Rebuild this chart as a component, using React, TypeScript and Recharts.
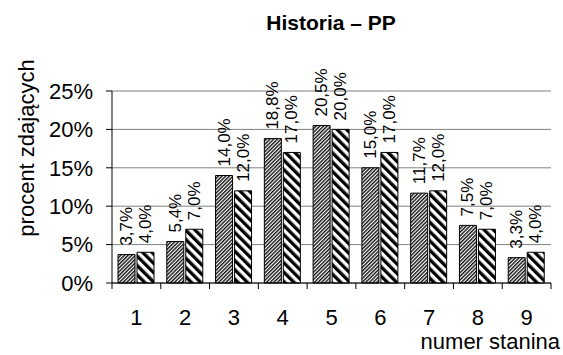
import React from 'react';
import { BarChart, Bar, XAxis, YAxis, CartesianGrid, LabelList } from 'recharts';

const staniny = ['1', '2', '3', '4', '5', '6', '7', '8', '9'];
const seriaA = [3.7, 5.4, 14.0, 18.8, 20.5, 15.0, 11.7, 7.5, 3.3];
const seriaB = [4.0, 7.0, 12.0, 17.0, 20.0, 17.0, 12.0, 7.0, 4.0];
const yTicks = [0, 5, 10, 15, 20, 25];

const data = staniny.map((s, i) => ({ name: s, a: seriaA[i], b: seriaB[i] }));

const W = 563;
const H = 355;
const LEFT = 112;
const RIGHT = 12;
const TOP = 91;
const BAND = (W - LEFT - RIGHT) / staniny.length;
const FONT = 'Arial, "Liberation Sans", sans-serif';

const fmt = (v: number) => v.toFixed(1).replace('.', ',') + '%';

// etykieta obrócona o 90°, nad słupkiem
const BarLabel = (props: any) => {
    const { x, y, width, value } = props;
    const cx = x + width / 2;
    const cy = y - 9;
    return (
        <text
            x={cx}
            y={cy}
            transform={`rotate(-90, ${cx}, ${cy})`}
            textAnchor="start"
            dominantBaseline="central"
            fontSize={17}
            fontFamily={FONT}
            fill="#000"
        >
            {fmt(value)}
        </text>
    );
};

// kreski osi X między kategoriami, podpis na środku
const XTick = (props: any) => {
    const { x, y, payload, index } = props;
    const left = x - BAND / 2;
    return (
        <g>
            <line x1={left} y1={y} x2={left} y2={y + 6} stroke="#000" />
            {index === staniny.length - 1 && (
                <line x1={x + BAND / 2} y1={y} x2={x + BAND / 2} y2={y + 6} stroke="#000" />
            )}
            <text x={x} y={y + 42} textAnchor="middle" fontSize={22} fontFamily={FONT} fill="#000">
                {payload.value}
            </text>
        </g>
    );
};

export default function App() {
    return (
        <div style={{ position: 'absolute', left: 0, top: 0, width: W, height: H, background: '#fff' }}>
            <svg width={W} height={H} style={{ position: 'absolute', left: 0, top: 0 }}>
                <text x={331} y={30} textAnchor="middle" fontSize={21} fontWeight="bold" fontFamily={FONT}>
                    Historia – PP
                </text>
                <text
                    x={26}
                    y={148}
                    transform="rotate(-90, 26, 148)"
                    textAnchor="middle"
                    dominantBaseline="central"
                    fontSize={22}
                    fontFamily={FONT}
                >
                    procent zdających
                </text>
                <text x={560} y={349} textAnchor="end" fontSize={22} fontFamily={FONT}>
                    numer stanina
                </text>
            </svg>
            <BarChart
                width={W}
                height={H}
                data={data}
                margin={{ top: TOP, right: RIGHT, left: 0, bottom: 0 }}
                barGap={2}
                barCategoryGap={6}
                style={{ position: 'absolute', left: 0, top: 0 }}
            >
                <defs>
                    <pattern id="hatchA" patternUnits="userSpaceOnUse" width="2.6" height="2.6" patternTransform="rotate(45)">
                        <rect width="2.6" height="2.6" fill="#fff" />
                        <rect width="1.4" height="2.6" fill="#111" />
                    </pattern>
                    <pattern id="hatchB" patternUnits="userSpaceOnUse" width="6.6" height="6.6" patternTransform="rotate(-45)">
                        <rect width="6.6" height="6.6" fill="#fff" />
                        <rect width="3.3" height="6.6" fill="#000" />
                    </pattern>
                </defs>
                <CartesianGrid vertical={false} stroke="#808080" />
                <XAxis
                    dataKey="name"
                    height={72}
                    axisLine={{ stroke: '#000' }}
                    tickLine={false}
                    tickSize={0}
                    tickMargin={0}
                    tick={<XTick />}
                    interval={0}
                />
                <YAxis
                    width={LEFT}
                    domain={[0, 25]}
                    ticks={yTicks}
                    tickFormatter={(v: number) => `${v}%`}
                    axisLine={{ stroke: '#000' }}
                    tickLine={{ stroke: '#000' }}
                    tickSize={6}
                    tickMargin={13}
                    tick={{ fill: '#000', fontSize: 22, fontFamily: FONT }}
                />
                <YAxis
                    yAxisId="r"
                    orientation="right"
                    width={0}
                    tick={false}
                    tickLine={false}
                    axisLine={{ stroke: '#808080' }}
                />
                <Bar dataKey="a" fill="url(#hatchA)" stroke="#000" strokeWidth={1} isAnimationActive={false}>
                    <LabelList dataKey="a" content={<BarLabel />} />
                </Bar>
                <Bar dataKey="b" fill="url(#hatchB)" stroke="#000" strokeWidth={1} isAnimationActive={false}>
                    <LabelList dataKey="b" content={<BarLabel />} />
                </Bar>
            </BarChart>
        </div>
    );
}
